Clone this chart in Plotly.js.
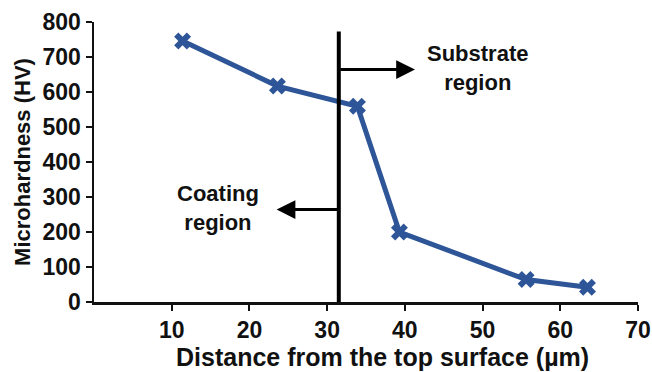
<!DOCTYPE html>
<html>
<head>
<meta charset="utf-8">
<script src="https://cdn.plot.ly/plotly-3.0.1.min.js"></script>
<style>html,body{margin:0;padding:0;background:#fff;}#chart{width:652px;height:372px;}</style>
</head>
<body>
<div id="chart"></div>
<script>
// Data
const distance = [11.4, 23.6, 33.9, 39.3, 55.6, 63.5];
const hardness = [746, 617, 559, 200, 64, 42];
const xTicks = [10, 20, 30, 40, 50, 60, 70];
const yTicks = [0, 100, 200, 300, 400, 500, 600, 700, 800];
const boundaryX = 31.5;
const boundaryTop = 773;
const labels = ["Substrate<br>region", "Coating<br>region"];
const labelX = [49.4, 16.0];
const labelY = [668, 270];
const arrowTipX = [41.3, 23.5];
const arrowY = [664, 264];
const xTitle = 'Distance from the top surface (µm)';
const yTitle = 'Microhardness (HV)';

const blue = '#2d5597';
const fontFam = 'Liberation Sans, Arial, Helvetica, sans-serif';

const trace = {
  x: distance, y: hardness, type: 'scatter', mode: 'lines+markers',
  line: {color: blue, width: 5},
  marker: {symbol: 'x', size: 15, color: blue, line: {width: 0}},
  hoverinfo: 'skip', showlegend: false, cliponaxis: false
};

const annotations = [];
for (let i = 0; i < labels.length; i++) {
  annotations.push({
    x: labelX[i], y: labelY[i], xref: 'x', yref: 'y', text: labels[i],
    showarrow: false, align: 'center',
    font: {family: fontFam, size: 22, color: '#111', weight: 'bold'}
  });
  annotations.push({
    x: arrowTipX[i], y: arrowY[i], ax: boundaryX, ay: arrowY[i],
    xref: 'x', yref: 'y', axref: 'x', ayref: 'y', text: '',
    showarrow: true, arrowhead: 2, arrowsize: 1.25, arrowwidth: 3, arrowcolor: '#000',
    standoff: 0, startstandoff: 0
  });
}
annotations.push({
  xref: 'paper', yref: 'paper', x: 0.531, y: -0.195, xanchor: 'center', yanchor: 'middle',
  text: xTitle, showarrow: false,
  font: {family: fontFam, size: 25, weight: 'bold', color: '#111'}
});

const layout = {
  width: 652, height: 372,
  margin: {l: 94, r: 14, t: 22, b: 70},
  paper_bgcolor: '#fff', plot_bgcolor: '#fff',
  font: {family: fontFam, color: '#111'},
  xaxis: {
    range: [0, 70], tickvals: xTicks, ticktext: xTicks.map(String),
    showgrid: false, zeroline: false, showline: true, linecolor: '#111', linewidth: 2.5,
    ticks: 'outside', ticklen: 6, tickwidth: 2, tickcolor: '#111',
    tickfont: {family: fontFam, size: 23, weight: 'bold', color: '#111'}
  },
  yaxis: {
    range: [0, 800], tickvals: yTicks, ticktext: yTicks.map(String),
    showgrid: false, zeroline: false, showline: true, linecolor: '#111', linewidth: 2.5,
    ticks: 'outside', ticklen: 6, tickwidth: 2, tickcolor: '#111',
    tickfont: {family: fontFam, size: 23, weight: 'bold', color: '#111'},
    title: {text: yTitle, standoff: 6,
            font: {family: fontFam, size: 22, weight: 'bold', color: '#111'}}
  },
  shapes: [{
    type: 'line', xref: 'x', yref: 'y', x0: boundaryX, x1: boundaryX, y0: 0, y1: boundaryTop,
    line: {color: '#000', width: 4}
  }],
  annotations: annotations
};

Plotly.newPlot('chart', [trace], layout, {displayModeBar: false, staticPlot: true});
</script>
</body>
</html>
